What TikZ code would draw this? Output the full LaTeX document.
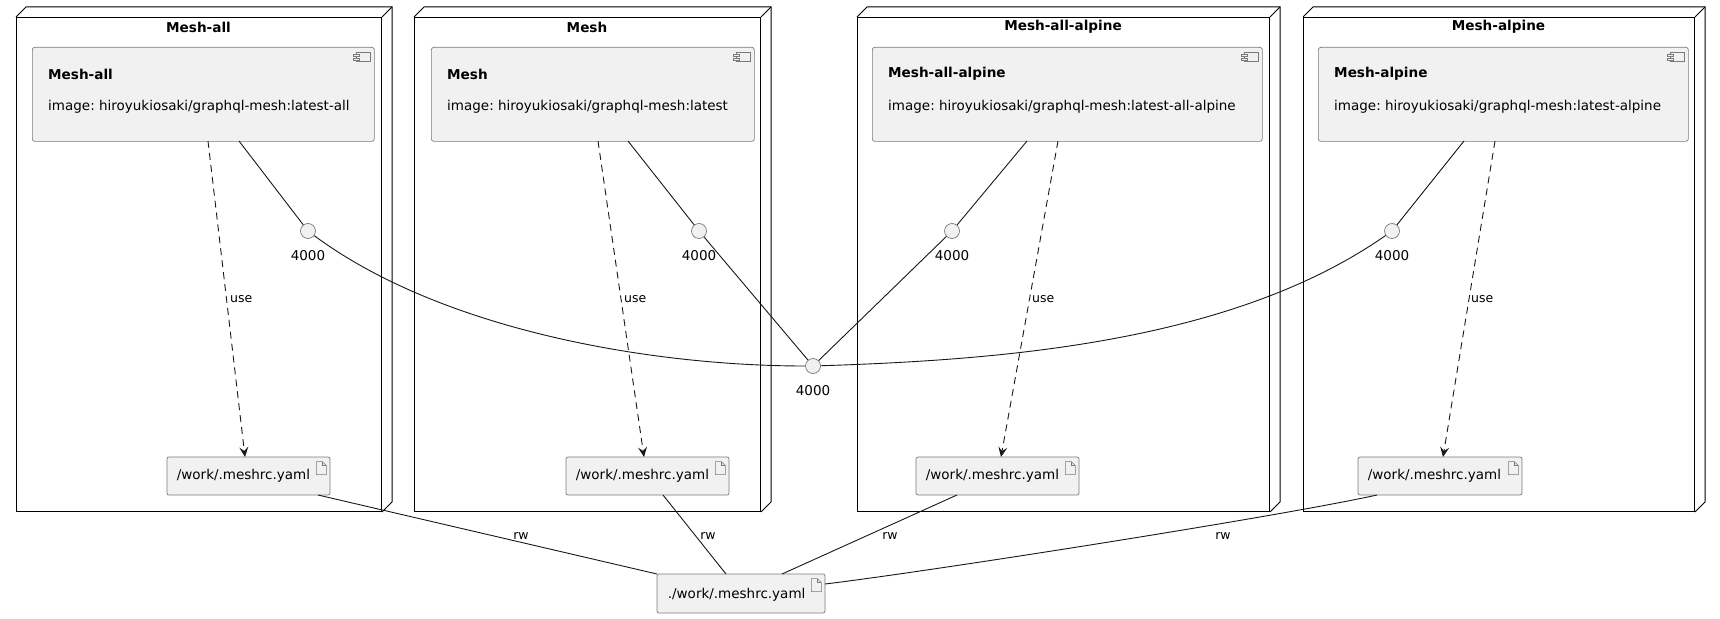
\documentclass[tikz,border=0pt]{standalone}
\usepackage{fontspec}
\setmainfont{DejaVu Sans}
\frenchspacing
\usetikzlibrary{arrows.meta}
\definecolor{boxfill}{HTML}{F1F1F1}
\definecolor{ink}{HTML}{181818}
\definecolor{boxline}{HTML}{7A7A7A}
\tikzset{
  frame/.style={draw=black, line width=1pt},
  framebox/.style={frame, rectangle, anchor=north west, inner sep=0pt, minimum height=494pt},
  ftitle/.style={font=\fontsize{13.6}{16}\selectfont\bfseries, inner sep=0pt},
  comp/.style={draw=boxline, fill=boxfill, line width=0.7pt, rounded corners=2.5pt, rectangle, anchor=north west, inner sep=0pt, minimum height=94pt},
  cname/.style={font=\fontsize{13.6}{16}\selectfont\bfseries, anchor=west, inner sep=0pt},
  cimg/.style={font=\fontsize{13.5}{16}\selectfont, anchor=west, inner sep=0pt},
  art/.style={draw=boxline, fill=boxfill, line width=0.7pt, rounded corners=2pt, rectangle, inner sep=0pt, minimum height=38pt},
  arttext/.style={font=\fontsize{13.5}{16}\selectfont, anchor=west, inner sep=0pt},
  iface/.style={circle, draw=boxline, fill=boxfill, line width=0.7pt, minimum size=15pt, inner sep=0pt},
  ilabel/.style={font=\fontsize{13.5}{16}\selectfont, inner sep=0pt},
  elabel/.style={font=\fontsize{12.5}{15}\selectfont, inner sep=0pt},
  icon/.style={draw=boxline, line width=0.6pt},
  conn/.style={draw=ink, line width=0.9pt},
  dconn/.style={draw=ink, line width=0.9pt, dash pattern=on 7pt off 5pt, -{Stealth[length=10pt,width=9pt,inset=4pt]}},
}
\newcommand\threed[1]{%
  \draw[frame] (#1.north west) -- ++(10,-10) -- ([shift={(10pt,10pt)}]#1.north east) -- ([shift={(10pt,10pt)}]#1.south east) -- (#1.south east);
  \draw[frame] (#1.north east) -- ++(10,-10);
}
\newcommand\compicon[1]{%
  \draw[icon, fill=boxfill] ([shift={(-18pt,-5.5pt)}]#1.north east) rectangle ([shift={(-4pt,-14.5pt)}]#1.north east);
  \draw[icon, fill=boxfill] ([shift={(-21pt,-7.5pt)}]#1.north east) rectangle ([shift={(-15pt,-9.5pt)}]#1.north east);
  \draw[icon, fill=boxfill] ([shift={(-21pt,-11pt)}]#1.north east) rectangle ([shift={(-15pt,-13pt)}]#1.north east);
}
\newcommand\articon[1]{%
  \draw[icon] ([shift={(-14pt,-5pt)}]#1.north east) -- ([shift={(-8pt,-5pt)}]#1.north east) -- ([shift={(-4pt,-9pt)}]#1.north east) -- ([shift={(-4pt,-18pt)}]#1.north east) -- ([shift={(-14pt,-18pt)}]#1.north east) -- cycle;
  \draw[icon] ([shift={(-8pt,-5pt)}]#1.north east) -- ([shift={(-8pt,-9pt)}]#1.north east) -- ([shift={(-4pt,-9pt)}]#1.north east);
}
\begin{document}
\begin{tikzpicture}[x=1pt,y=-1pt]
\useasboundingbox[fill=white] (0,0) rectangle (1720,618);

% 3D node frames
\node[framebox, minimum width=365pt] (f1) at (16,17) {};
\node[framebox, minimum width=346pt] (f2) at (414,17) {};
\node[framebox, minimum width=412pt] (f3) at (857,17) {};
\node[framebox, minimum width=391pt] (f4) at (1303,17) {};
\threed{f1}\threed{f2}\threed{f3}\threed{f4}
\node[ftitle] (t1) at (198.5,27) {Mesh-all};
\node[ftitle] (t2) at (587,27) {Mesh};
\node[ftitle] (t3) at (1063,27) {Mesh-all-alpine};
\node[ftitle] (t4) at (1498.5,27) {Mesh-alpine};

% components
\node[comp, minimum width=342pt] (c1) at (32,47) {};
\node[comp, minimum width=323pt] (c2) at (431,47) {};
\node[comp, minimum width=390pt] (c3) at (872,47) {};
\node[comp, minimum width=370pt] (c4) at (1318,47) {};
\compicon{c1}\compicon{c2}\compicon{c3}\compicon{c4}
\node[cname] (c1n) at (48,74) {Mesh-all};
\node[cimg] (c1i) at (48,107) {image: hiroyukiosaki/graphql-mesh:latest-all};
\node[cname] (c2n) at (447,74) {Mesh};
\node[cimg] (c2i) at (447,107) {image: hiroyukiosaki/graphql-mesh:latest};
\node[cname] (c3n) at (888,74) {Mesh-all-alpine};
\node[cimg] (c3i) at (888,107) {image: hiroyukiosaki/graphql-mesh:latest-all-alpine};
\node[cname] (c4n) at (1334,74) {Mesh-alpine};
\node[cimg] (c4i) at (1334,107) {image: hiroyukiosaki/graphql-mesh:latest-alpine};

% interfaces
\node[iface] (i1) at (308,231) {};
\node[iface] (i2) at (699,231) {};
\node[iface] (i3) at (952,231) {};
\node[iface] (i4) at (1392,231) {};
\node[iface] (ic) at (813,366) {};
\node[ilabel] (i1l) at (308,256) {4000};
\node[ilabel] (i2l) at (699,256) {4000};
\node[ilabel] (i3l) at (952,256) {4000};
\node[ilabel] (i4l) at (1392,256) {4000};
\node[ilabel] (icl) at (813,391) {4000};

% artifacts
\node[art, minimum width=163pt] (a1) at (248.5,476) {};
\node[art, minimum width=163pt] (a2) at (647.5,476) {};
\node[art, minimum width=163pt] (a3) at (997.5,476) {};
\node[art, minimum width=164pt] (a4) at (1440,476) {};
\node[art, minimum width=168pt, minimum height=39pt] (ab) at (741,593.5) {};
\articon{a1}\articon{a2}\articon{a3}\articon{a4}\articon{ab}
\node[arttext] (a1t) at ([xshift=10pt]a1.west) {/work/.meshrc.yaml};
\node[arttext] (a2t) at ([xshift=10pt]a2.west) {/work/.meshrc.yaml};
\node[arttext] (a3t) at ([xshift=10pt]a3.west) {/work/.meshrc.yaml};
\node[arttext] (a4t) at ([xshift=10pt]a4.west) {/work/.meshrc.yaml};
\node[arttext] (abt) at ([xshift=11pt,yshift=-1pt]ab.west) {./work/.meshrc.yaml};

% ports
\coordinate (c1s) at (239,141); \coordinate (c1d) at (208,141);
\coordinate (c2s) at (628,141); \coordinate (c2d) at (598,141);
\coordinate (c3s) at (1027,141); \coordinate (c3d) at (1058,141);
\coordinate (c4s) at (1464,141); \coordinate (c4d) at (1495,141);
\coordinate (a1in) at (245,457); \coordinate (a2in) at (644,457);
\coordinate (a3in) at (1001,457); \coordinate (a4in) at (1443,457);
\coordinate (a1out) at (318,495); \coordinate (a2out) at (663,495);
\coordinate (a3out) at (957,495); \coordinate (a4out) at (1377,495);
\coordinate (ab1) at (657,574); \coordinate (ab2) at (726,574);
\coordinate (ab3) at (782,574); \coordinate (ab4) at (825,584);

% component to interface
\draw[conn] (c1s) -- (i1);
\draw[conn] (c2s) -- (i2);
\draw[conn] (c3s) -- (i3);
\draw[conn] (c4s) -- (i4);

% interfaces to central interface
\draw[conn] (i1) .. controls +(135,100) and +(-160,0) .. (ic);
\draw[conn] (i2) -- (ic);
\draw[conn] (i3) -- (ic);
\draw[conn] (i4) .. controls +(-160,112) and +(187,-6) .. (ic);

% use arrows
\draw[dconn] (c1d) -- (a1in);
\draw[dconn] (c2d) -- (a2in);
\draw[dconn] (c3d) -- (a3in);
\draw[dconn] (c4d) -- (a4in);
\node[elabel, anchor=west] (u1) at (230,299) {use};
\node[elabel, anchor=west] (u2) at (624,299) {use};
\node[elabel, anchor=west] (u3) at (1032,299) {use};
\node[elabel, anchor=west] (u4) at (1471,299) {use};

% rw lines
\draw[conn] (a1out) -- (ab1);
\draw[conn] (a2out) -- (ab2);
\draw[conn] (a3out) -- (ab3);
\draw[conn] (a4out) .. controls +(-100,22) and +(100,-12) .. (ab4);
\node[elabel] (r1) at (521,536) {rw};
\node[elabel] (r2) at (708,536) {rw};
\node[elabel] (r3) at (890,536) {rw};
\node[elabel] (r4) at (1223,536) {rw};
\end{tikzpicture}
\end{document}
